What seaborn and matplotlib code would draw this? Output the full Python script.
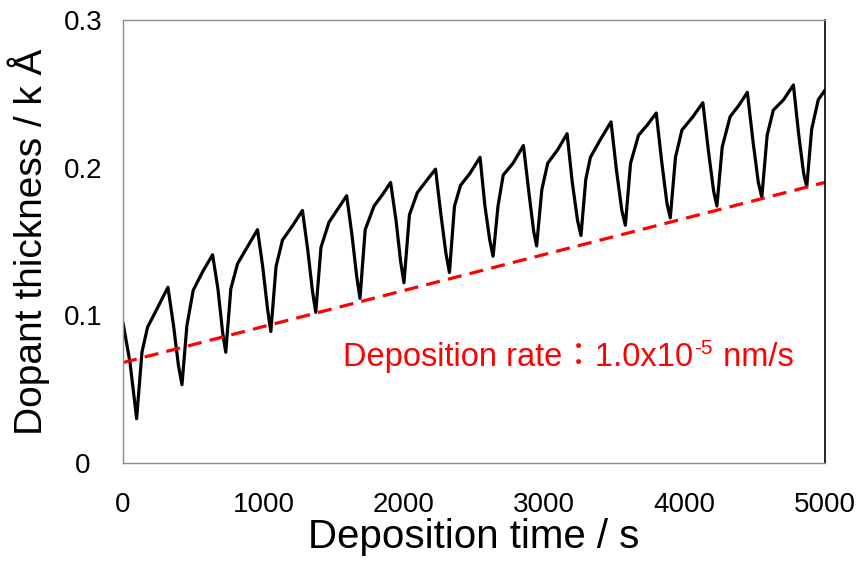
import matplotlib
matplotlib.use("Agg")
import matplotlib.pyplot as plt
import seaborn as sns
import pandas as pd

# Measured dopant thickness (kÅ) versus deposition time (s)
time_s = [
    0, 50, 97, 135, 175, 240, 320, 360, 395, 420, 455, 500, 570, 638,
    676, 710, 732, 768, 816, 890, 958, 995, 1030, 1053, 1090, 1136, 1210, 1278,
    1315, 1350, 1373, 1410, 1467, 1530, 1593, 1630, 1665, 1688, 1725, 1788, 1850, 1906,
    1945, 1978, 2001, 2040, 2096, 2160, 2226, 2262, 2300, 2325, 2361, 2404, 2470, 2543,
    2578, 2612, 2636, 2671, 2708, 2778, 2852, 2895, 2925, 2946, 2983, 3025, 3095, 3163,
    3200, 3238, 3262, 3296, 3329, 3400, 3476, 3515, 3553, 3578, 3615, 3672, 3735, 3798,
    3837, 3874, 3898, 3935, 3981, 4055, 4130, 4170, 4207, 4230, 4268, 4324, 4385, 4447,
    4487, 4525, 4550, 4588, 4632, 4705, 4775, 4812, 4848, 4870, 4905, 4952, 5000,
]
thickness_kA = [
    0.095, 0.068, 0.030, 0.075, 0.092, 0.104, 0.119, 0.093, 0.066, 0.053, 0.093, 0.117, 0.130, 0.141,
    0.118, 0.088, 0.075, 0.118, 0.135, 0.147, 0.158, 0.133, 0.104, 0.089, 0.133, 0.151, 0.161, 0.171,
    0.145, 0.116, 0.102, 0.146, 0.163, 0.172, 0.181, 0.155, 0.126, 0.1115, 0.158, 0.174, 0.182, 0.190,
    0.164, 0.136, 0.122, 0.168, 0.183, 0.191, 0.199, 0.170, 0.142, 0.129, 0.174, 0.188, 0.196, 0.207,
    0.174, 0.151, 0.140, 0.174, 0.195, 0.203, 0.215, 0.180, 0.157, 0.147, 0.185, 0.203, 0.212, 0.223,
    0.190, 0.164, 0.154, 0.192, 0.207, 0.219, 0.231, 0.198, 0.171, 0.161, 0.203, 0.222, 0.229, 0.237,
    0.204, 0.176, 0.166, 0.207, 0.2255, 0.234, 0.244, 0.211, 0.184, 0.174, 0.214, 0.2345, 0.242, 0.251,
    0.218, 0.190, 0.180, 0.222, 0.239, 0.246, 0.256, 0.223, 0.196, 0.187, 0.226, 0.246, 0.2525,
]

# Baseline trend (deposition rate)
rate_time_s = [0, 5000]
rate_thickness_kA = [0.068, 0.190]

x_ticks = [0, 1000, 2000, 3000, 4000, 5000]
x_tick_labels = ["0", "1000", "2000", "3000", "4000", "5000"]
y_ticks = [0.0, 0.1, 0.2, 0.3]
y_tick_labels = ["0", "0.1", "0.2", "0.3"]

sns.set_style("white")
plt.rcParams["font.family"] = ["Liberation Sans", "Noto Sans CJK JP", "DejaVu Sans"]
plt.rcParams["text.color"] = "black"
plt.rcParams["axes.labelcolor"] = "black"

fig = plt.figure(figsize=(8.6, 5.62), dpi=100)
ax = fig.add_axes([123 / 860, 1 - 463 / 562, 702 / 860, 443 / 562])

df = pd.DataFrame({"t": time_s, "d": thickness_kA})
sns.lineplot(data=df, x="t", y="d", sort=False, estimator=None,
             color="black", linewidth=2.3, ax=ax)

df_rate = pd.DataFrame({"t": rate_time_s, "d": rate_thickness_kA})
sns.lineplot(data=df_rate, x="t", y="d", sort=False, estimator=None,
             color="#ff0000", linewidth=2.3, linestyle=(0, (4.4, 2.6)), ax=ax)

ax.set_xlim(0, 5000)
ax.set_ylim(0, 0.3)
ax.set_xticks(x_ticks, x_tick_labels)
ax.set_yticks(y_ticks, y_tick_labels)

grey = "#8c8c8c"
for side in ("left", "bottom", "top"):
    ax.spines[side].set_color(grey)
    ax.spines[side].set_linewidth(1.0)
ax.spines["right"].set_color("black")
ax.spines["right"].set_linewidth(1.2)

ax.tick_params(axis="both", direction="in", length=6, width=1, color=grey,
               labelsize=20, labelcolor="black")
ax.tick_params(axis="x", pad=21)
ax.tick_params(axis="y", pad=29)
for lbl in ax.get_yticklabels():
    lbl.set_horizontalalignment("center")

ax.set_xlabel("Deposition time / s", fontsize=29, color="black")
ax.set_ylabel("Dopant thickness / k Å", fontsize=28, color="black")
ax.xaxis.set_label_coords(0.5, -0.125)
ax.yaxis.set_label_coords(-0.104, 0.5)
ax.xaxis.label.set_verticalalignment("top")

# Deposition-rate annotation with superscript exponent
red = "#ff0000"
t1 = ax.text(1567, 0.0657, "Deposition rate：1.0x10", color=red, fontsize=23.5,
             ha="left", va="baseline")
t2 = ax.annotate("-5", xy=(1, 0.0657), xycoords=(t1, "data"),
                 xytext=(0.5, 8.4), textcoords="offset points",
                 color=red, fontsize=15, ha="left", va="baseline")
t3 = ax.annotate(" nm/s", xy=(1, 0.0657), xycoords=(t2, "data"),
                 xytext=(1, 0), textcoords="offset points",
                 color=red, fontsize=23.5, ha="left", va="baseline")

fig.savefig("out.png", dpi=100)
